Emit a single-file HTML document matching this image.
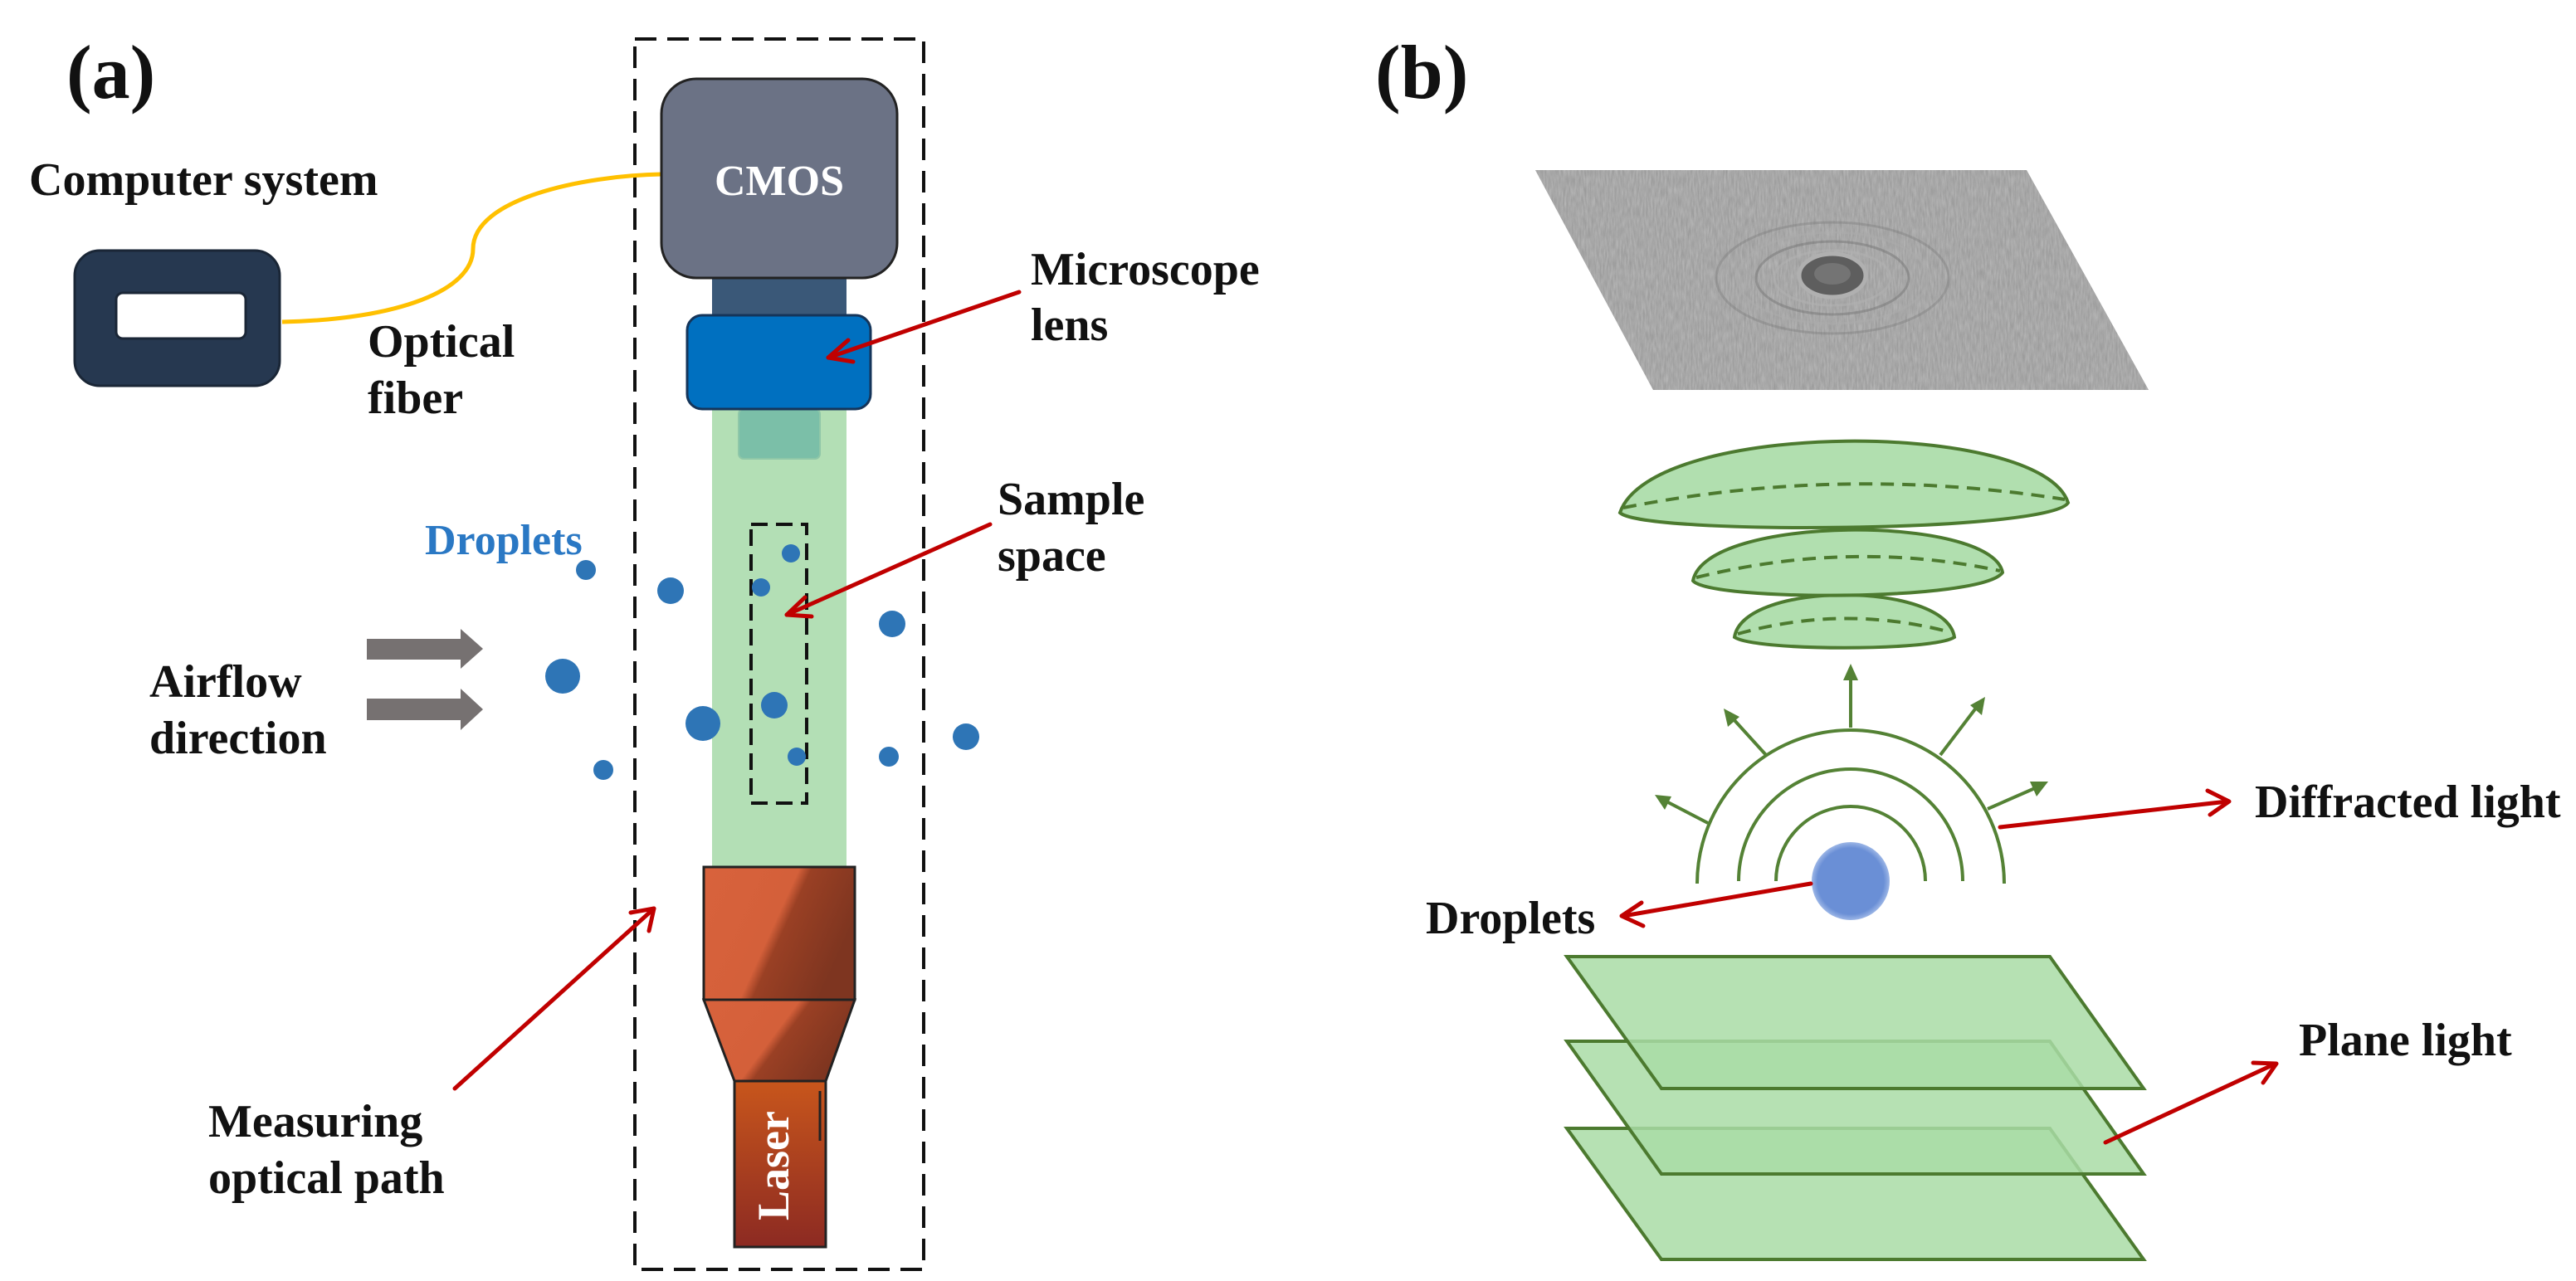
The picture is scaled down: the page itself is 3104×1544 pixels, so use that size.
<!DOCTYPE html>
<html><head><meta charset="utf-8"><style>
html,body{margin:0;padding:0;background:#fff}
svg{display:block}
text{font-family:"Liberation Serif",serif;font-weight:bold;fill:#111}
</style></head><body>
<svg width="3104" height="1544" viewBox="0 0 3104 1544" xmlns="http://www.w3.org/2000/svg">
<defs>
<linearGradient id="lg1" x1="0" y1="0" x2="1" y2="0.4">
<stop offset="0" stop-color="#d8623c"/><stop offset="0.55" stop-color="#d4603a"/><stop offset="0.62" stop-color="#9a4024"/><stop offset="1" stop-color="#7e3520"/></linearGradient>
<linearGradient id="lg2" x1="0" y1="0" x2="0" y2="1">
<stop offset="0" stop-color="#c8561c"/><stop offset="1" stop-color="#8c2a22"/></linearGradient>
<filter id="noise" x="0" y="0" width="1" height="1">
<feTurbulence type="fractalNoise" baseFrequency="0.5 0.08" numOctaves="2" seed="3"/>
<feColorMatrix type="matrix" values="0 0 0 0 0.6  0 0 0 0 0.6  0 0 0 0 0.6  0.7 0 0 0 0"/>
</filter>
<clipPath id="holo"><polygon points="1850,205 2442,205 2589,470 1992,470"/></clipPath>
<radialGradient id="dg" cx="0.5" cy="0.5" r="0.5"><stop offset="0.85" stop-color="#6a8fd6"/><stop offset="1" stop-color="#9cb6e6"/></radialGradient>
</defs>

<!-- Panel (a) -->
<text x="80" y="118" font-size="92">(a)</text>
<rect x="765" y="47" width="348" height="1483" fill="none" stroke="#111" stroke-width="4" stroke-dasharray="26 13"/>

<text x="35" y="235" font-size="56">Computer system</text>
<rect x="90" y="302" width="247" height="163" rx="30" fill="#263850" stroke="#1a2636" stroke-width="3"/>
<rect x="140" y="353" width="156" height="55" rx="8" fill="#fff" stroke="#1a2636" stroke-width="3"/>
<path d="M340,388 C480,385 570,350 570,300 C570,240 700,212 797,210" fill="none" stroke="#ffc000" stroke-width="5"/>
<text x="443" y="430" font-size="56">Optical</text>
<text x="443" y="498" font-size="56">fiber</text>

<rect x="858" y="493" width="162" height="552" fill="#b3dfb5"/>
<rect x="890" y="493" width="98" height="60" rx="6" fill="#7bbfa8" stroke="#8fc7a8" stroke-width="2"/>

<rect x="858" y="330" width="162" height="55" fill="#3a5878"/>
<rect x="797" y="95" width="284" height="240" rx="42" fill="#6b7285" stroke="#222" stroke-width="3"/>
<text x="939" y="235" font-size="52" text-anchor="middle" style="fill:#fff">CMOS</text>
<rect x="828" y="380" width="221" height="113" rx="18" fill="#0070c0" stroke="#15355a" stroke-width="3"/>

<rect x="905" y="632" width="67" height="336" fill="none" stroke="#111" stroke-width="4" stroke-dasharray="20 10"/>

<g fill="#2e75b6">
<circle cx="706" cy="687" r="12"/><circle cx="808" cy="712" r="16"/><circle cx="953" cy="667" r="11"/>
<circle cx="917" cy="708" r="11"/><circle cx="1075" cy="752" r="16"/><circle cx="678" cy="815" r="21"/>
<circle cx="933" cy="850" r="16"/><circle cx="847" cy="872" r="21"/><circle cx="960" cy="912" r="11"/>
<circle cx="727" cy="928" r="12"/><circle cx="1071" cy="912" r="12"/><circle cx="1164" cy="888" r="16"/>
</g>
<text x="512" y="668" font-size="52" style="fill:#2a78c4">Droplets</text>

<g fill="#767171">
<polygon points="442,770 555,770 555,758 582,782 555,806 555,795 442,795"/>
<polygon points="442,842 555,842 555,830 582,855 555,880 555,868 442,868"/>
</g>
<text x="180" y="840" font-size="56">Airflow</text>
<text x="180" y="908" font-size="56">direction</text>

<rect x="848" y="1045" width="182" height="160" fill="url(#lg1)" stroke="#222" stroke-width="3"/>
<polygon points="848,1205 1030,1205 995,1303 885,1303" fill="url(#lg1)" stroke="#222" stroke-width="3"/>
<rect x="885" y="1303" width="110" height="200" fill="url(#lg2)" stroke="#222" stroke-width="3"/>
<line x1="988" y1="1315" x2="988" y2="1375" stroke="#222" stroke-width="3"/>
<text transform="translate(950,1405) rotate(-90)" font-size="54" text-anchor="middle" style="fill:#fff">Laser</text>

<g stroke="#c00000" stroke-width="5" fill="none" stroke-linecap="round" stroke-linejoin="round">
<line x1="1228" y1="352" x2="998" y2="431"/><polyline points="1022,410 998,431 1028,436"/>
<line x1="1193" y1="632" x2="948" y2="741"/><polyline points="970,720 948,741 978,743"/>
<line x1="548" y1="1312" x2="788" y2="1095"/><polyline points="760,1100 788,1095 782,1122"/>
</g>
<text x="1242" y="343" font-size="56">Microscope</text>
<text x="1242" y="410" font-size="56">lens</text>
<text x="1202" y="620" font-size="56">Sample</text>
<text x="1202" y="688" font-size="56">space</text>
<text x="251" y="1370" font-size="56">Measuring</text>
<text x="251" y="1438" font-size="56">optical path</text>

<!-- Panel (b) -->
<text x="1657" y="118" font-size="92">(b)</text>

<g clip-path="url(#holo)">
<rect x="1840" y="200" width="760" height="280" fill="#949494"/>
<rect x="1840" y="200" width="760" height="280" filter="url(#noise)"/>
<g fill="none" stroke-width="3">
<ellipse cx="2208" cy="335" rx="165" ry="80" stroke="#a8a8a8" opacity="0.4"/>
<ellipse cx="2208" cy="335" rx="140" ry="67" stroke="#7a7a7a" opacity="0.4"/>
<ellipse cx="2208" cy="335" rx="115" ry="55" stroke="#ababab" opacity="0.5"/>
<ellipse cx="2208" cy="335" rx="92" ry="44" stroke="#767676" opacity="0.5"/>
<ellipse cx="2208" cy="335" rx="70" ry="33" stroke="#b0b0b0" opacity="0.6"/>
</g>
<ellipse cx="2208" cy="332" rx="40" ry="26" fill="#5e5e5e" stroke="#b0b0b0" stroke-width="5"/>
<ellipse cx="2208" cy="330" rx="22" ry="13" fill="#747474"/>
</g>

<g fill="#a9dca6" fill-opacity="0.9" stroke="#4c7a2f" stroke-width="4">
<path d="M2090,768 C2100,700 2345,700 2355,768 C2330,785 2115,785 2090,768 Z"/>
<path d="M2040,700 C2055,620 2400,620 2413,690 C2390,725 2060,725 2040,700 Z"/>
<path d="M1952,618 C1990,505 2460,505 2492,606 C2470,642 1980,645 1952,618 Z"/>
</g>
<g fill="none" stroke="#4c7a2f" stroke-width="4" stroke-dasharray="16 10">
<path d="M1956,612 Q2220,560 2488,602"/>
<path d="M2044,696 Q2230,650 2410,688"/>
<path d="M2094,764 Q2222,728 2350,762"/>
</g>

<g fill="none" stroke="#548235" stroke-width="4">
<path d="M2140,1062 A90,90 0 0 1 2320,1062"/>
<path d="M2095,1062 A135,135 0 0 1 2365,1062"/>
<path d="M2045,1065 A185,185 0 0 1 2415,1065"/>
<line x1="2230" y1="877" x2="2230" y2="815"/>
<line x1="2128" y1="910" x2="2088" y2="866"/>
<line x1="2338" y1="910" x2="2382" y2="852"/>
<line x1="2058" y1="992" x2="2008" y2="966"/>
<line x1="2395" y1="975" x2="2452" y2="950"/>
</g>
<g fill="#548235">
<polygon points="2230,800 2221,820 2239,820"/>
<polygon points="2077,854 2082,876 2096,864"/>
<polygon points="2392,840 2374,850 2388,862"/>
<polygon points="1994,958 2006,976 2014,960"/>
<polygon points="2468,942 2446,942 2454,960"/>
</g>
<circle cx="2230" cy="1062" r="47" fill="url(#dg)"/>

<g fill="#a9dca6" fill-opacity="0.85" stroke="#4c7a2f" stroke-width="4">
<polygon points="1888,1360 2470,1360 2583,1518 2002,1518"/>
<polygon points="1888,1255 2470,1255 2583,1415 2002,1415"/>
<polygon points="1888,1153 2470,1153 2583,1312 2002,1312"/>
</g>

<g stroke="#c00000" stroke-width="5" fill="none" stroke-linecap="round" stroke-linejoin="round">
<line x1="2410" y1="997" x2="2684" y2="966"/><polyline points="2660,953 2686,966 2663,982"/>
<line x1="2182" y1="1065" x2="1956" y2="1104"/><polyline points="1978,1088 1954,1104 1980,1116"/>
<line x1="2537" y1="1377" x2="2742" y2="1282"/><polyline points="2715,1281 2743,1282 2727,1305"/>
</g>
<text x="2717" y="985" font-size="56">Diffracted light</text>
<text x="1718" y="1125" font-size="56">Droplets</text>
<text x="2770" y="1272" font-size="56">Plane light</text>
</svg>
</body></html>
